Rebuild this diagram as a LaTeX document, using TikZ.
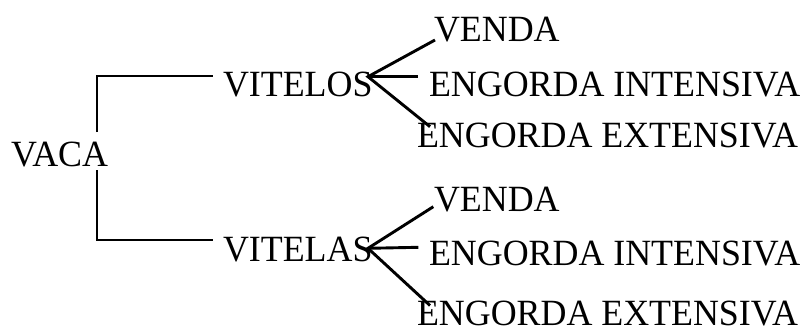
\documentclass[tikz,border=0pt]{standalone}
\usepackage{fontspec}
\setmainfont{Liberation Serif}[FakeStretch=0.97]
\begin{document}
\begin{tikzpicture}[x=1pt,y=-1pt,
  lbl/.style={anchor=base west,inner sep=0pt,outer sep=0pt,font=\fontsize{37}{40}\selectfont},
  conn/.style={line width=2.9pt,line cap=butt,line join=miter}]
\useasboundingbox (0,0) rectangle (804,330);
% text nodes
\node[lbl] (vaca) at (11,166.7) {VACA};
\node[lbl] (vitelos) at (223,96) {VITELOS};
\node[lbl] (vitelas) at (223,261.7) {VITELAS};
\node[lbl] (venda1) at (434,41.7) {VENDA};
\node[lbl] (int1) at (429,96.7) {ENGORDA INTENSIVA};
\node[lbl] (ext1) at (417,147.5) {ENGORDA EXTENSIVA};
\node[lbl] (venda2) at (434,211.7) {VENDA};
\node[lbl] (int2) at (429,265) {ENGORDA INTENSIVA};
\node[lbl] (ext2) at (417,325.5) {ENGORDA EXTENSIVA};
% connector points
\coordinate (vacaN) at (97,132);
\coordinate (vacaS) at (97,170);
\coordinate (cornerN) at (97,76);
\coordinate (cornerS) at (97,240);
\coordinate (vitelosW) at (213,76);
\coordinate (vitelasW) at (213,240);
\coordinate (bA) at (368,76.7);
\coordinate (bB) at (368,248.3);
\coordinate (a1) at (435,40);
\coordinate (a2) at (418,76.7);
\coordinate (a3) at (430,126.7);
\coordinate (b1) at (433.3,206.7);
\coordinate (b2) at (418.3,247.3);
\coordinate (b3) at (430,305.5);
% connectors
\draw[conn] (vacaN) -- (cornerN) -- (vitelosW);
\draw[conn] (vacaS) -- (cornerS) -- (vitelasW);
\draw[conn] (a1) -- (bA) -- (a3);
\draw[conn] (bA) -- (a2);
\draw[conn] (b1) -- (bB) -- (b3);
\draw[conn] (bB) -- (b2);
\end{tikzpicture}
\end{document}
